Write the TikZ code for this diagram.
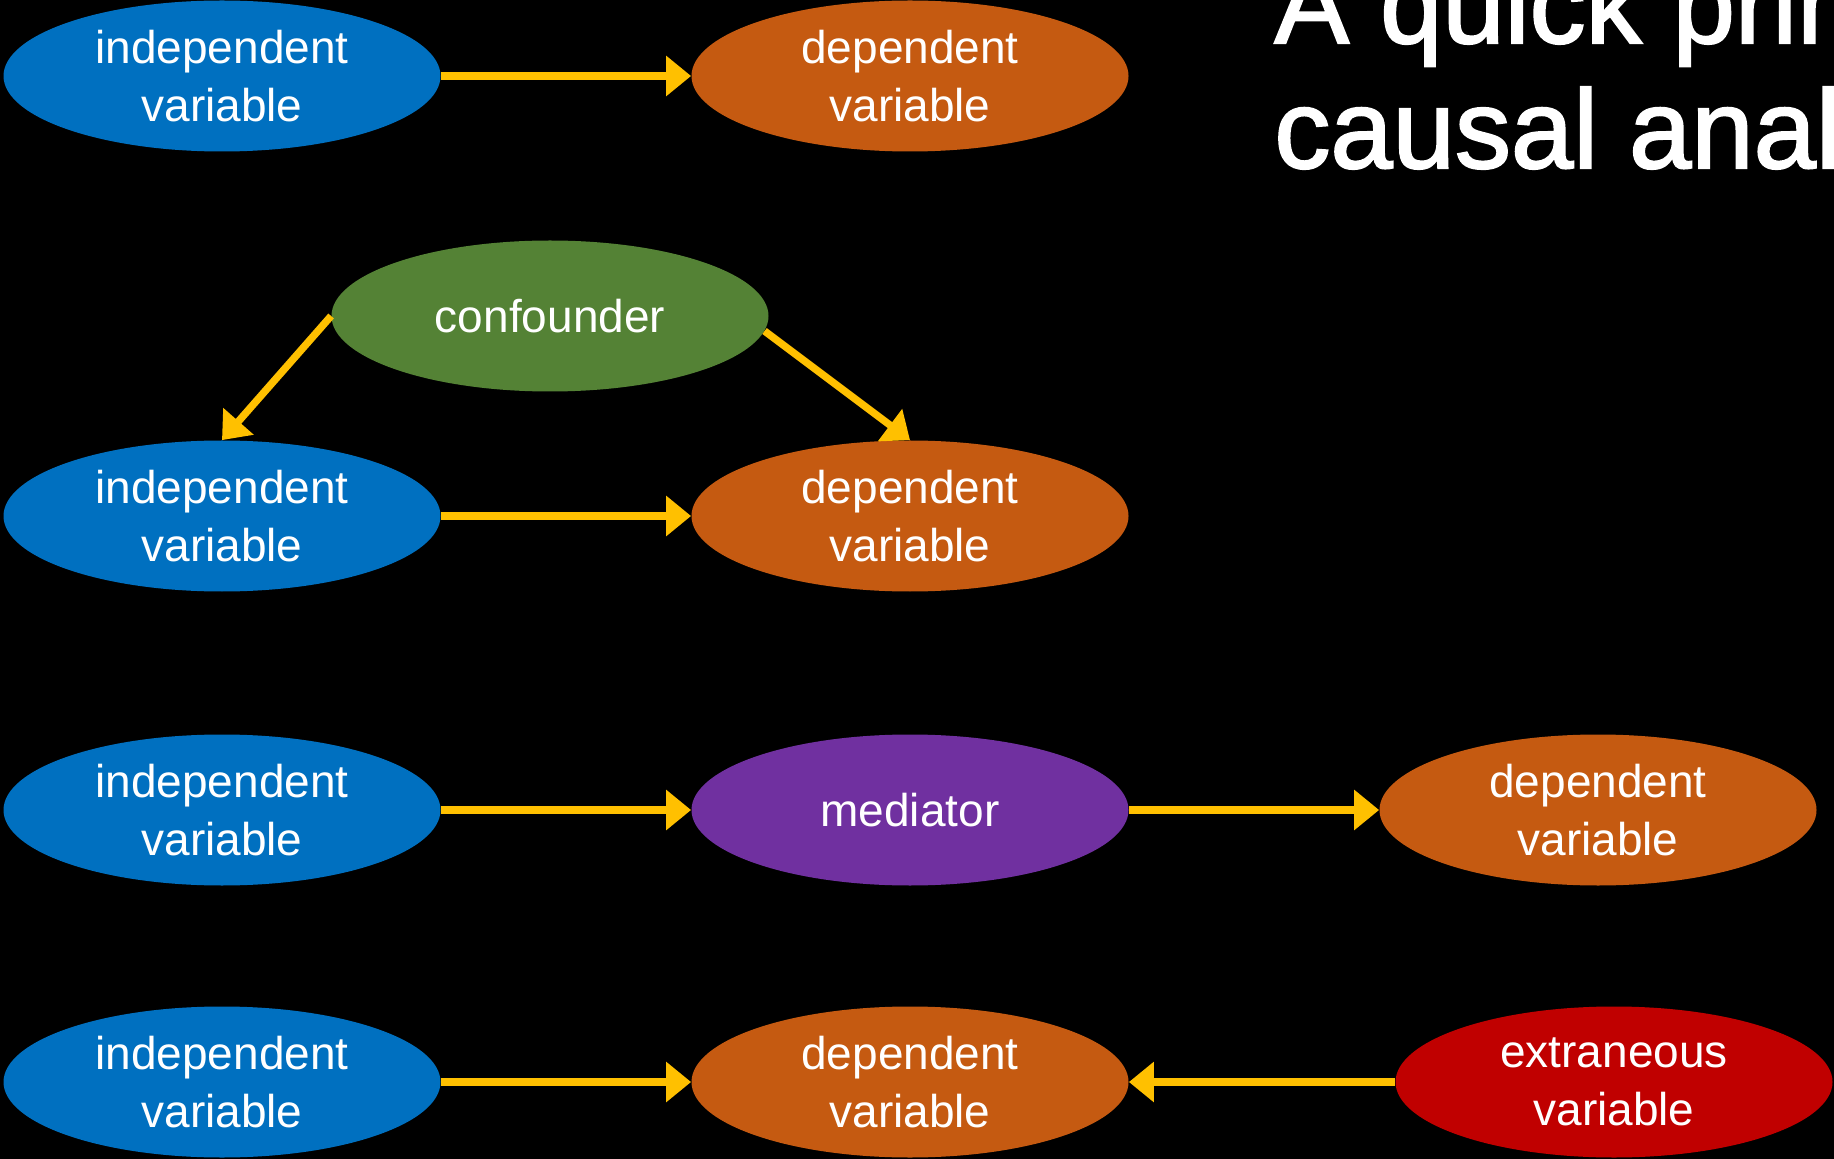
\documentclass[tikz,border=0pt]{standalone}
\usepackage{fontspec}
\setmainfont{Liberation Sans}
\newfontfamily\titlefont[FakeBold=1.8]{Liberation Sans}
\usetikzlibrary{shapes.geometric,arrows.meta}
\definecolor{ivblue}{HTML}{0070C0}
\definecolor{dvorange}{HTML}{C55A11}
\definecolor{cfgreen}{HTML}{548235}
\definecolor{mdpurple}{HTML}{7030A0}
\definecolor{exred}{HTML}{C00000}
\definecolor{arrowyellow}{HTML}{FFC000}
\tikzset{
  var/.style={ellipse, inner sep=0pt, minimum width=218.5pt, minimum height=75.5pt,
    text=white, align=center, font=\fontsize{23pt}{29pt}\selectfont},
  ivnode/.style={var, fill=ivblue},
  dvnode/.style={var, fill=dvorange},
  cfnode/.style={var, fill=cfgreen},
  mdnode/.style={var, fill=mdpurple},
  exnode/.style={var, fill=exred},
  link/.style={draw=arrowyellow, line width=3.7pt,
    -{Triangle[length=12.5pt,width=19.5pt]}},
  titletext/.style={text=white, anchor=base west, inner sep=0pt,
    font=\titlefont\fontsize{56pt}{62pt}\selectfont}
}
\begin{document}
\begin{tikzpicture}[x=0.5pt,y=-0.5pt]
\useasboundingbox (0,0) rectangle (1834,1159);
\clip (0,0) rectangle (1834,1159);
\fill[black] (0,0) rectangle (1834,1159);

\node[titletext] (title1) at (1274,43) {A quick primer on};
\node[titletext] (title2) at (1274,168) {causal analysis};

% row 1
\node[ivnode] (iv1) at (222,76) {independent\\variable};
\node[dvnode] (dv1) at (910,76) {dependent\\variable};
\draw[link] (iv1.east) -- (dv1.west);

% row 2 (confounder)
\node[cfnode] (conf) at (550,316) {confounder};
\node[ivnode] (iv2) at (222,516) {independent\\variable};
\node[dvnode] (dv2) at (910,516) {dependent\\variable};
\draw[link] (iv2.east) -- (dv2.west);
\draw[link] (conf.west) -- (iv2.north);
\draw[link] (conf.-4) -- (dv2.north);

% row 3 (mediator)
\node[ivnode] (iv3) at (222,810) {independent\\variable};
\node[mdnode] (med) at (910,810) {mediator};
\node[dvnode] (dv3) at (1598,810) {dependent\\variable};
\draw[link] (iv3.east) -- (med.west);
\draw[link] (med.east) -- (dv3.west);

% row 4 (extraneous)
\node[ivnode] (iv4) at (222,1082) {independent\\variable};
\node[dvnode] (dv4) at (910,1082) {dependent\\variable};
\node[exnode] (ex) at (1614,1082) {extraneous\\variable};
\draw[link] (iv4.east) -- (dv4.west);
\draw[link] (ex.west) -- (dv4.east);
\end{tikzpicture}
\end{document}
